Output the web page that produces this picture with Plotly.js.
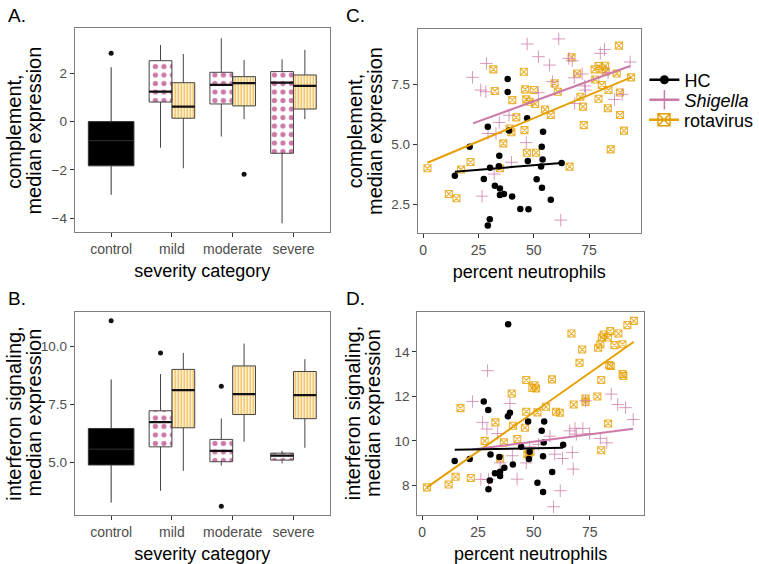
<!DOCTYPE html>
<html>
<head>
<meta charset="utf-8">
<script src="https://cdn.plot.ly/plotly-3.0.1.min.js"></script>
<style>html,body{margin:0;padding:0;background:#fff;}#chart{width:759px;height:564px;}</style>
</head>
<body>
<div id="chart"></div>
<script>
// ---------- categories ----------
const categories = ['control', 'mild', 'moderate', 'severe'];
const catPos = [1, 2, 3, 4];

// ---------- Panel A: complement, box statistics ----------
const ctrlA_q1 = [-1.83], ctrlA_med = [-0.79], ctrlA_q3 = [0.0], ctrlA_lo = [-3.03], ctrlA_hi = [2.25];
const ctrlA_out = [2.83];
const shigA_q1 = [0.81, 0.73, -1.31], shigA_med = [1.24, 1.52, 1.61], shigA_q3 = [2.52, 2.04, 2.07];
const shigA_lo = [-1.08, -0.62, -4.21], shigA_hi = [3.17, 3.45, 2.58];
const rotaA_q1 = [0.14, 0.65, 0.52], rotaA_med = [0.62, 1.59, 1.48], rotaA_q3 = [1.61, 1.86, 1.93];
const rotaA_lo = [-1.93, 0.10, 0.10], rotaA_hi = [2.80, 2.55, 2.97];
const rotaA_outCat = [3], rotaA_out = [-2.18];

// ---------- Panel B: interferon signaling, box statistics ----------
const ctrlB_q1 = [4.89], ctrlB_med = [5.57], ctrlB_q3 = [6.46], ctrlB_lo = [3.27], ctrlB_hi = [8.57];
const ctrlB_out = [11.09];
const shigB_q1 = [5.67, 5.03, 5.10], shigB_med = [6.73, 5.50, 5.29], shigB_q3 = [7.22, 5.99, 5.40];
const shigB_lo = [3.78, 4.86, 4.96], shigB_hi = [8.80, 6.89, 5.50];
const shigB_outCat = [2, 3, 3], shigB_out = [9.71, 8.28, 3.12];
const rotaB_q1 = [6.49, 7.06, 6.88], rotaB_med = [8.11, 7.94, 7.89], rotaB_q3 = [9.00, 9.15, 8.91];
const rotaB_lo = [4.64, 5.89, 5.63], rotaB_hi = [9.71, 10.11, 9.44];

// ---------- Panel C: complement vs percent neutrophils ----------
const hcC_x = [14.3, 21.0, 29.2, 30.1, 29.2, 27.4, 30.2, 32.4, 34.4, 34.2, 34.7, 34.7, 36.5, 38.2, 38.2, 38.8, 40.2, 43.9, 47.0, 47.3, 47.6, 51.3, 53.3, 53.6, 53.7, 54.0, 54.2, 57.7, 62.6];
const hcC_y = [3.68, 4.89, 5.72, 1.87, 1.61, 3.54, 4.01, 3.26, 4.51, 4.08, 3.15, 2.88, 2.92, 7.71, 7.17, 5.56, 2.81, 2.29, 6.07, 4.29, 2.28, 3.53, 4.06, 4.89, 3.18, 4.36, 5.51, 2.68, 4.21];
const shigC_x = [22.3, 28.6, 26.0, 28.3, 34.4, 29.3, 32.9, 32.1, 26.6, 38.8, 47.0, 61.3, 52.1, 57.1, 58.5, 52.1, 46.6, 39.9, 62.2, 65.8, 67.4, 68.3, 68.5, 71.9, 73.0, 73.4, 80.1, 82.0, 83.6, 86.5, 90.0, 93.6];
const shigC_y = [7.78, 8.36, 7.25, 7.18, 5.90, 5.44, 5.44, 3.75, 2.83, 6.20, 9.17, 9.38, 8.64, 8.29, 7.60, 7.14, 5.06, 4.24, 1.83, 8.57, 8.47, 7.76, 6.69, 7.92, 7.42, 7.25, 8.78, 8.94, 7.97, 6.86, 7.07, 8.42];
const rotaC_x = [1.9, 11.6, 15.0, 17.1, 21.4, 31.7, 32.4, 34.7, 36.2, 39.1, 40.3, 39.9, 42.1, 45.5, 46.1, 46.6, 45.8, 46.9, 48.1, 50.0, 51.0, 50.6, 55.1, 57.7, 59.4, 60.9, 66.2, 67.1, 69.6, 71.1, 72.3, 72.6, 77.5, 77.8, 79.3, 79.3, 80.8, 81.1, 82.3, 82.6, 83.5, 83.8, 84.8, 87.5, 88.5, 89.0, 89.0, 90.8, 94.0];
const rotaC_y = [3.99, 2.92, 2.74, 3.94, 4.25, 8.11, 7.21, 3.99, 5.03, 5.65, 6.83, 5.49, 6.11, 8.01, 7.28, 6.86, 5.58, 4.64, 6.76, 7.25, 4.64, 6.67, 6.44, 6.21, 7.53, 7.18, 4.06, 8.61, 7.94, 6.97, 6.56, 5.79, 8.11, 7.69, 8.25, 6.89, 7.46, 8.11, 8.26, 8.01, 6.49, 7.25, 4.78, 7.94, 9.10, 7.15, 6.21, 5.56, 7.78];
// fitted trend lines (end points)
const fitC_hc_x = [14.3, 62.6], fitC_hc_y = [3.85, 4.21];
const fitC_shig_x = [22.5, 93.6], fitC_shig_y = [5.86, 8.25];
const fitC_rota_x = [1.9, 94.0], fitC_rota_y = [4.22, 7.78];

// ---------- Panel D: interferon signaling vs percent neutrophils ----------
const hcD_x = [38.5, 14.6, 21.3, 27.6, 29.6, 29.7, 30.3, 30.6, 32.6, 34.6, 34.9, 34.9, 36.8, 38.4, 39.3, 40.6, 44.3, 47.4, 47.8, 48.1, 51.6, 53.5, 54.1, 54.4, 54.6, 54.1, 58.2, 63.1];
const hcD_y = [15.24, 9.09, 9.19, 11.77, 11.38, 7.83, 8.22, 9.39, 8.54, 9.28, 8.42, 8.61, 8.79, 11.11, 11.26, 8.94, 9.73, 10.87, 9.18, 9.51, 8.12, 10.45, 9.31, 9.93, 10.87, 7.70, 8.60, 9.82];
const shigD_x = [22.6, 29.3, 27.1, 29.0, 26.3, 29.7, 33.8, 34.9, 39.3, 40.4, 42.5, 46.6, 48.1, 52.1, 57.2, 59.3, 62.8, 61.8, 58.8, 66.0, 67.6, 68.4, 69.0, 71.9, 73.1, 74.9, 79.7, 82.6, 84.6, 87.5, 91.0, 94.4, 67.2];
const shigD_y = [11.77, 13.15, 10.83, 10.53, 8.27, 8.27, 10.33, 9.01, 11.68, 9.33, 8.28, 9.01, 9.73, 9.84, 10.21, 9.40, 9.21, 7.76, 7.04, 10.45, 8.73, 10.56, 10.30, 10.56, 11.80, 10.33, 10.11, 9.91, 12.10, 11.63, 11.49, 10.96, 9.48];
const rotaD_x = [2.2, 11.9, 15.0, 17.2, 21.8, 28.0, 32.8, 34.9, 36.6, 40.1, 40.7, 42.6, 46.0, 46.6, 46.6, 47.1, 47.8, 48.5, 49.3, 50.3, 51.0, 51.6, 55.4, 58.1, 59.9, 61.6, 66.8, 67.8, 70.4, 71.6, 73.1, 73.1, 78.4, 78.7, 79.7, 80.1, 80.1, 80.4, 81.2, 83.1, 83.7, 84.4, 83.2, 84.1, 86.0, 87.8, 89.6, 89.7, 90.0, 91.8, 94.7];
const rotaD_y = [7.91, 8.04, 8.39, 11.47, 8.33, 10.00, 10.83, 9.21, 9.93, 12.13, 10.68, 10.08, 10.59, 12.73, 11.31, 9.39, 9.43, 9.51, 12.38, 12.50, 12.35, 11.28, 11.53, 12.76, 11.31, 11.26, 14.82, 11.63, 13.51, 14.10, 11.90, 11.75, 11.99, 14.18, 14.34, 12.73, 9.58, 14.64, 14.78, 14.64, 13.40, 13.36, 10.78, 14.93, 14.30, 14.82, 14.34, 13.00, 12.92, 15.20, 15.39];
const fitD_hc_x = [14.6, 63.1], fitD_hc_y = [9.60, 9.69];
const fitD_shig_x = [22.6, 94.4], fitD_shig_y = [9.61, 10.54];
const fitD_rota_x = [2.2, 94.7], fitD_rota_y = [7.91, 14.45];

// ---------- text ----------
const panelLetters = ['A.', 'B.', 'C.', 'D.'];
const yTitleTop = ['complement,', 'median expression'];
const yTitleBottom = ['interferon signaling,', 'median expression'];
const legendNames = ['HC', '<i>Shigella</i>', 'rotavirus'];

// ---------- styles ----------
const PINK = '#CC79A7', ORANGE = '#E69F00';
const DODGE = 0.1875, HALFW = 0.375;
const FONT = 'Liberation Sans, Arial, Helvetica, sans-serif';

function shift(arr, d) { return arr.map(v => v + d); }
const sevPos = catPos.slice(1);

function boxPanel(xa, ya, c, s, r) {
  const tr = [];
  tr.push({type: 'bar', xaxis: xa, yaxis: ya, x: shift(sevPos, -DODGE), base: s.q1,
    y: s.q3.map((v, i) => v - s.q1[i]), width: HALFW, showlegend: false, hoverinfo: 'skip',
    marker: {color: 'white', line: {width: 0},
      pattern: {shape: '.', fgcolor: PINK, bgcolor: 'white', size: 8.5, solidity: 0.3, fillmode: 'replace'}}});
  tr.push({type: 'bar', xaxis: xa, yaxis: ya, x: shift(sevPos, DODGE), base: r.q1,
    y: r.q3.map((v, i) => v - r.q1[i]), width: HALFW, showlegend: false, hoverinfo: 'skip',
    marker: {color: '#FFF2D0', line: {width: 0},
      pattern: {shape: '|', fgcolor: '#EBB443', bgcolor: '#FFF6E0', size: 3, solidity: 0.4, fillmode: 'replace'}}});
  tr.push({type: 'box', xaxis: xa, yaxis: ya, x: [catPos[0]], q1: c.q1, median: c.med, q3: c.q3,
    lowerfence: c.lo, upperfence: c.hi, width: 0.75, whiskerwidth: 0, boxpoints: false,
    fillcolor: '#000000', line: {color: '#333333', width: 1}, showlegend: false, hoverinfo: 'skip'});
  tr.push({type: 'box', xaxis: xa, yaxis: ya, x: shift(sevPos, -DODGE), q1: s.q1, median: s.med, q3: s.q3,
    lowerfence: s.lo, upperfence: s.hi, width: HALFW, whiskerwidth: 0, boxpoints: false,
    fillcolor: 'rgba(0,0,0,0)', line: {color: '#444444', width: 1}, showlegend: false, hoverinfo: 'skip'});
  tr.push({type: 'box', xaxis: xa, yaxis: ya, x: shift(sevPos, DODGE), q1: r.q1, median: r.med, q3: r.q3,
    lowerfence: r.lo, upperfence: r.hi, width: HALFW, whiskerwidth: 0, boxpoints: false,
    fillcolor: 'rgba(0,0,0,0)', line: {color: '#444444', width: 1}, showlegend: false, hoverinfo: 'skip'});
  tr.push({type: 'scatter', mode: 'markers', xaxis: xa, yaxis: ya,
    x: shift(sevPos, -DODGE).concat(shift(sevPos, DODGE)), y: s.med.concat(r.med),
    marker: {symbol: 'line-ew', size: 16.3, line: {color: '#111111', width: 2.2}},
    showlegend: false, hoverinfo: 'skip'});
  return tr;
}

const traces = [];
traces.push(...boxPanel('x', 'y',
  {q1: ctrlA_q1, med: ctrlA_med, q3: ctrlA_q3, lo: ctrlA_lo, hi: ctrlA_hi},
  {q1: shigA_q1, med: shigA_med, q3: shigA_q3, lo: shigA_lo, hi: shigA_hi},
  {q1: rotaA_q1, med: rotaA_med, q3: rotaA_q3, lo: rotaA_lo, hi: rotaA_hi}));
traces.push({type: 'scatter', mode: 'markers', xaxis: 'x', yaxis: 'y',
  x: [catPos[0]].concat(shift(rotaA_outCat, DODGE)), y: ctrlA_out.concat(rotaA_out),
  marker: {color: '#111', size: 5}, showlegend: false, hoverinfo: 'skip'});

traces.push(...boxPanel('x2', 'y2',
  {q1: ctrlB_q1, med: ctrlB_med, q3: ctrlB_q3, lo: ctrlB_lo, hi: ctrlB_hi},
  {q1: shigB_q1, med: shigB_med, q3: shigB_q3, lo: shigB_lo, hi: shigB_hi},
  {q1: rotaB_q1, med: rotaB_med, q3: rotaB_q3, lo: rotaB_lo, hi: rotaB_hi}));
traces.push({type: 'scatter', mode: 'markers', xaxis: 'x2', yaxis: 'y2',
  x: [catPos[0]].concat(shift(shigB_outCat, -DODGE)), y: ctrlB_out.concat(shigB_out),
  marker: {color: '#111', size: 5}, showlegend: false, hoverinfo: 'skip'});

const hcMarker = {color: '#000000', size: 6.5};
const shigMarker = {symbol: 'cross-thin-open', color: 'rgba(204,121,167,0.75)', size: 9, line: {color: 'rgba(204,121,167,0.75)', width: 1}};
const rotaMarker = {symbol: 'square-x-open', color: 'rgba(230,159,0,0.8)', size: 7, line: {color: 'rgba(230,159,0,0.8)', width: 1.1}};

function scatterPanel(xa, ya, d) {
  return [
    {type: 'scatter', mode: 'markers', xaxis: xa, yaxis: ya, x: d.rx, y: d.ry, marker: rotaMarker, showlegend: false, hoverinfo: 'skip'},
    {type: 'scatter', mode: 'markers', xaxis: xa, yaxis: ya, x: d.sx, y: d.sy, marker: shigMarker, showlegend: false, hoverinfo: 'skip'},
    {type: 'scatter', mode: 'markers', xaxis: xa, yaxis: ya, x: d.hx, y: d.hy, marker: hcMarker, showlegend: false, hoverinfo: 'skip'},
    {type: 'scatter', mode: 'lines', xaxis: xa, yaxis: ya, x: d.frx, y: d.fry, line: {color: ORANGE, width: 2}, showlegend: false, hoverinfo: 'skip'},
    {type: 'scatter', mode: 'lines', xaxis: xa, yaxis: ya, x: d.fsx, y: d.fsy, line: {color: PINK, width: 2}, showlegend: false, hoverinfo: 'skip'},
    {type: 'scatter', mode: 'lines', xaxis: xa, yaxis: ya, x: d.fhx, y: d.fhy, line: {color: '#000', width: 2}, showlegend: false, hoverinfo: 'skip'}
  ];
}
traces.push(...scatterPanel('x3', 'y3', {rx: rotaC_x, ry: rotaC_y, sx: shigC_x, sy: shigC_y, hx: hcC_x, hy: hcC_y,
  frx: fitC_rota_x, fry: fitC_rota_y, fsx: fitC_shig_x, fsy: fitC_shig_y, fhx: fitC_hc_x, fhy: fitC_hc_y}));
traces.push(...scatterPanel('x4', 'y4', {rx: rotaD_x, ry: rotaD_y, sx: shigD_x, sy: shigD_y, hx: hcD_x, hy: hcD_y,
  frx: fitD_rota_x, fry: fitD_rota_y, fsx: fitD_shig_x, fsy: fitD_shig_y, fhx: fitD_hc_x, fhy: fitD_hc_y}));

// legend entries (one legend box per entry for exact spacing)
traces.push({type: 'scatter', mode: 'lines+markers', xaxis: 'x3', yaxis: 'y3', x: [null], y: [null], name: legendNames[0], legend: 'legend',
  line: {color: '#000', width: 2.5}, marker: {color: '#000', size: 9}});
traces.push({type: 'scatter', mode: 'lines+markers', xaxis: 'x3', yaxis: 'y3', x: [null], y: [null], name: legendNames[1], legend: 'legend2',
  line: {color: PINK, width: 2.5}, marker: {symbol: 'cross-thin-open', size: 14, color: PINK, line: {color: PINK, width: 1.5}}});
traces.push({type: 'scatter', mode: 'lines+markers', xaxis: 'x3', yaxis: 'y3', x: [null], y: [null], name: legendNames[2], legend: 'legend3',
  line: {color: ORANGE, width: 2.5}, marker: {symbol: 'square-x-open', size: 12, color: ORANGE, line: {color: ORANGE, width: 1.5}}});

const xTickFont = {family: FONT, size: 14, color: '#4D4D4D'};
const yTickFont = {family: FONT, size: 13.5, color: '#4D4D4D'};
const xTitleFont = {family: FONT, size: 18, color: '#000'};
const yTitleFont = {family: FONT, size: 20, color: '#000'};
function axBase(isX) {
  return {showgrid: false, zeroline: false, showline: true, mirror: true, linecolor: '#7F7F7F', linewidth: 1,
    ticks: 'outside', ticklen: 4, tickcolor: '#333333', tickwidth: 1, tickfont: isX ? xTickFont : yTickFont, automargin: false};
}
function leg(yPx) {
  return {x: 653 / 759, y: 1 - yPx / 564, xanchor: 'left', yanchor: 'middle', bgcolor: 'rgba(0,0,0,0)',
    font: {family: FONT, size: 18, color: '#000'}, itemwidth: 30, borderwidth: 0};
}
function px(xp, yp) { return {x: xp / 759, y: 1 - yp / 564}; }
function letter(t, xp, yp) {
  return Object.assign(px(xp, yp), {text: t, xref: 'paper', yref: 'paper', xanchor: 'left', yanchor: 'top',
    showarrow: false, font: {family: FONT, size: 19, color: '#000'}});
}
function ytitle(t, xp, yp) {
  return Object.assign(px(xp, yp), {text: t, xref: 'paper', yref: 'paper', xanchor: 'center', yanchor: 'middle',
    textangle: -90, showarrow: false, font: yTitleFont});
}
const yMidTop = 131, yMidBot = 413;
const layout = {
  width: 759, height: 564,
  margin: {l: 0, r: 0, t: 0, b: 0},
  paper_bgcolor: 'white', plot_bgcolor: 'white',
  font: {family: FONT},
  barmode: 'overlay', boxmode: 'overlay',
  showlegend: true,
  legend: leg(80), legend2: leg(100), legend3: leg(120),
  xaxis: Object.assign(axBase(true), {domain: [0.0997, 0.4405], anchor: 'y', range: [0.4, 4.6],
    tickvals: catPos, ticktext: categories, title: {text: 'severity category', font: xTitleFont, standoff: 8}}),
  yaxis: Object.assign(axBase(false), {domain: [0.5881, 0.9498], anchor: 'x', range: [-4.58, 3.86],
    tickvals: [-4, -2, 0, 2]}),
  xaxis2: Object.assign(axBase(true), {domain: [0.0997, 0.4405], anchor: 'y2', range: [0.4, 4.6],
    tickvals: catPos, ticktext: categories, title: {text: 'severity category', font: xTitleFont, standoff: 8}}),
  yaxis2: Object.assign(axBase(false), {domain: [0.0869, 0.4473], anchor: 'x2', range: [2.74, 11.48],
    tickvals: [5, 7.5, 10], tickformat: '.1f'}),
  xaxis3: Object.assign(axBase(true), {domain: [0.5577, 0.8555], anchor: 'y3', range: [-2.5, 98.4],
    tickvals: [0, 25, 50, 75], title: {text: 'percent neutrophils', font: xTitleFont, standoff: 8}}),
  yaxis3: Object.assign(axBase(false), {domain: [0.5863, 0.948], anchor: 'x3', range: [1.28, 9.78],
    tickvals: [2.5, 5, 7.5], tickformat: '.1f'}),
  xaxis4: Object.assign(axBase(true), {domain: [0.5569, 0.86], anchor: 'y4', range: [-2.2, 99.3],
    tickvals: [0, 25, 50, 75], title: {text: 'percent neutrophils', font: xTitleFont, standoff: 8}}),
  yaxis4: Object.assign(axBase(false), {domain: [0.0869, 0.4473], anchor: 'x4', range: [6.67, 15.8],
    tickvals: [8, 10, 12, 14]}),
  annotations: [
    letter(panelLetters[0], 6, 3), letter(panelLetters[1], 6, 286),
    letter(panelLetters[2], 349, 3), letter(panelLetters[3], 349, 286),
    ytitle(yTitleTop[0], 14, yMidTop), ytitle(yTitleTop[1], 34, yMidTop),
    ytitle(yTitleBottom[0], 14, yMidBot), ytitle(yTitleBottom[1], 34, yMidBot),
    ytitle(yTitleTop[0], 360, yMidTop), ytitle(yTitleTop[1], 380, yMidTop),
    ytitle(yTitleBottom[0], 358, yMidBot), ytitle(yTitleBottom[1], 378, yMidBot)
  ]
};

Plotly.newPlot('chart', traces, layout, {staticPlot: true, displayModeBar: false});
</script>
</body>
</html>
